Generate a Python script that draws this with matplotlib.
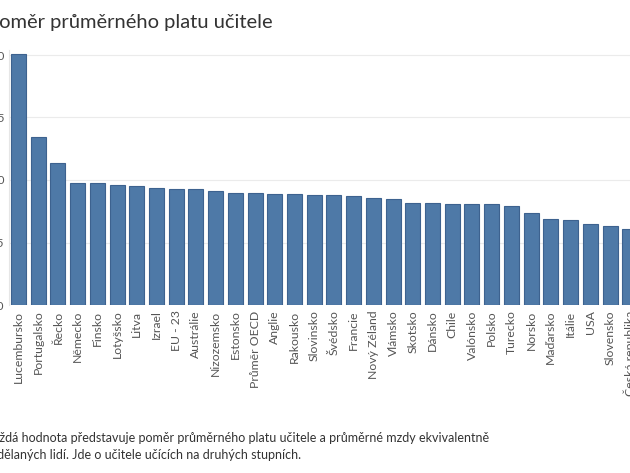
import matplotlib
matplotlib.use('Agg')
import matplotlib.pyplot as plt

plt.rcParams['font.family'] = ['Lato', 'DejaVu Sans']

# ratio of average teacher salary to wages of similarly educated workers
countries = ["Lucembursko", "Portugalsko", "Řecko", "Německo", "Finsko", "Lotyšsko",
             "Litva", "Izrael", "EU - 23", "Austrálie", "Nizozemsko", "Estonsko",
             "Průměr OECD", "Anglie", "Rakousko", "Slovinsko", "Švédsko", "Francie",
             "Nový Zéland", "Vlámsko", "Skotsko", "Dánsko", "Chile", "Valónsko",
             "Polsko", "Turecko", "Norsko", "Maďarsko", "Itálie", "USA", "Slovensko",
             "Česká republika"]
ratios = [2.01, 1.34, 1.14, 0.98, 0.98, 0.96,
          0.95, 0.94, 0.93, 0.93, 0.91, 0.90,
          0.90, 0.89, 0.89, 0.88, 0.88, 0.87,
          0.86, 0.85, 0.82, 0.82, 0.81, 0.81,
          0.81, 0.79, 0.74, 0.69, 0.68, 0.65, 0.63,
          0.61]
yticks = [0.0, 0.5, 1.0, 1.5, 2.0]

title = "Poměr průměrného platu učitele"
note = ("Každá hodnota představuje poměr průměrného platu učitele a průměrné mzdy ekvivalentně\n"
        "vzdělaných lidí. Jde o učitele učících na druhých stupních.")

fig = plt.figure(figsize=(6.3, 4.73), dpi=100)
ax = fig.add_axes([8.6 / 630, 168 / 473, 631 / 630, 255 / 473])

x = range(len(countries))
ax.bar(x, ratios, width=0.76, color='#4e79a7', edgecolor='#3d628f', linewidth=0.8, zorder=3)

ax.set_xlim(-0.5, len(countries) - 0.5)
ax.set_ylim(0, 2.04)
ax.set_yticks(yticks, [f"{v:.1f}" for v in yticks])
ax.set_xticks(list(x), countries, rotation=90, va='top')
ax.tick_params(axis='x', length=0, pad=4, labelsize=8.8, labelcolor='#555555')
ax.tick_params(axis='y', length=0, pad=3, labelsize=8.5, labelcolor='#555555')
ax.grid(axis='y', color='#ebebeb', linewidth=0.8, zorder=0)
for s in ['top', 'right', 'bottom']:
    ax.spines[s].set_visible(False)
ax.spines['left'].set_color('#e6e6e6')

fig.text(-13 / 630, 1 - 28 / 473, title, fontsize=14.5, color='#333333', ha='left', va='baseline')
fig.text(-15 / 630, 1 - 459 / 473, note, fontsize=9, color='#333333', ha='left', va='baseline',
         linespacing=1.5)

fig.savefig("out.png", dpi=100)
